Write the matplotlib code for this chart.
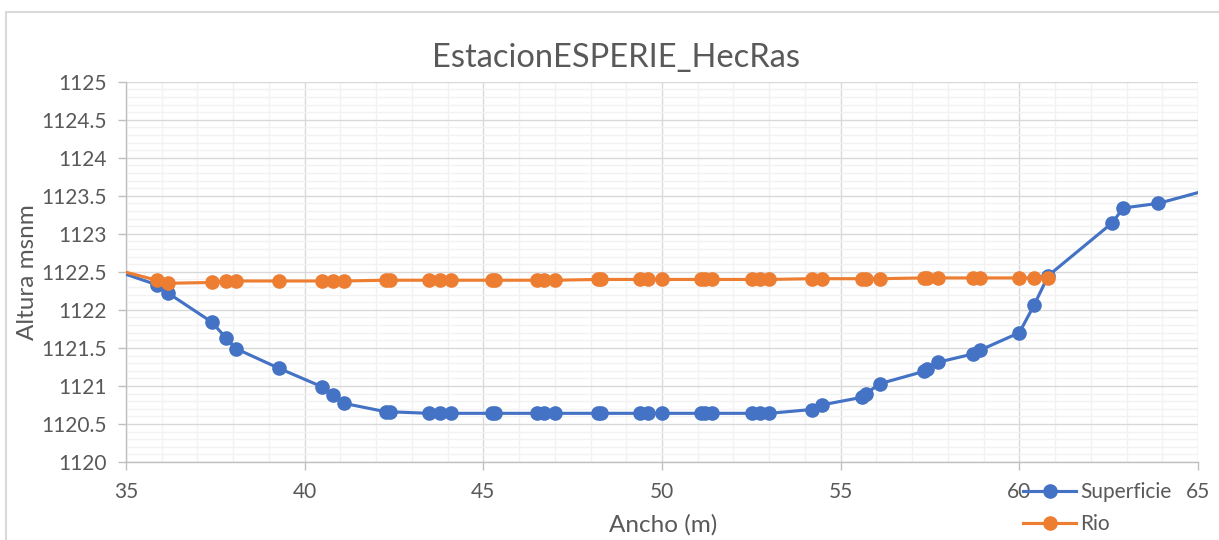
import matplotlib
matplotlib.use("Agg")
import matplotlib.pyplot as plt
from matplotlib.ticker import MultipleLocator, FuncFormatter
from matplotlib.patches import Rectangle

# ---------------- data ----------------
x_sup = [34.3, 35.86, 36.18, 37.40, 37.80, 38.08, 39.29, 40.48, 40.80, 41.11,
         42.28, 42.39, 43.49, 43.79, 44.10, 45.23, 45.33, 46.49, 46.70, 47.01,
         48.22, 48.28, 49.39, 49.62, 50.01, 51.10, 51.20, 51.39, 52.51, 52.74,
         53.00, 54.19, 54.47, 55.59, 55.71, 56.10, 57.32, 57.41, 57.71, 58.70,
         58.90, 60.00, 60.41, 60.81, 62.59, 62.91, 63.89, 66.0]
y_sup = [1122.58, 1122.33, 1122.22, 1121.84, 1121.63, 1121.49, 1121.23, 1120.99, 1120.88, 1120.77,
         1120.66, 1120.66, 1120.64, 1120.64, 1120.64, 1120.64, 1120.64, 1120.64, 1120.64, 1120.64,
         1120.64, 1120.64, 1120.64, 1120.64, 1120.64, 1120.64, 1120.64, 1120.64, 1120.64, 1120.64,
         1120.64, 1120.69, 1120.75, 1120.85, 1120.90, 1121.03, 1121.19, 1121.22, 1121.31, 1121.42,
         1121.47, 1121.70, 1122.06, 1122.45, 1123.14, 1123.34, 1123.40, 1123.67]

x_rio = [34.3, 35.86, 36.18, 37.40, 37.80, 38.08, 39.29, 40.48, 40.80, 41.11,
         42.28, 42.39, 43.49, 43.79, 44.10, 45.23, 45.33, 46.49, 46.70, 47.01,
         48.22, 48.28, 49.39, 49.62, 50.01, 51.10, 51.20, 51.39, 52.51, 52.74,
         53.00, 54.19, 54.47, 55.59, 55.71, 56.10, 57.32, 57.41, 57.71, 58.70,
         58.90, 60.00, 60.41, 60.81]
y_rio = [1122.58, 1122.39, 1122.35, 1122.36, 1122.38, 1122.38, 1122.38, 1122.38, 1122.38, 1122.38,
         1122.39, 1122.39, 1122.39, 1122.39, 1122.39, 1122.39, 1122.39, 1122.39, 1122.39, 1122.39,
         1122.40, 1122.40, 1122.40, 1122.40, 1122.40, 1122.40, 1122.40, 1122.40, 1122.40, 1122.40,
         1122.40, 1122.41, 1122.41, 1122.41, 1122.41, 1122.41, 1122.42, 1122.42, 1122.42, 1122.42,
         1122.42, 1122.42, 1122.42, 1122.42]

title = "EstacionESPERIE_HecRas"
xlabel = "Ancho (m)"
ylabel = "Altura msnm"
labels = ["Superficie", "Rio"]

# ---------------- style ----------------
plt.rcParams['font.family'] = ['Lato', 'DejaVu Sans']
TXT = '#595959'
BLUE = '#4472C4'
ORANGE = '#ED7D31'

W, H = 1219, 540
fig = plt.figure(figsize=(W / 100, H / 100), dpi=100)
L, R, T, B = 126, 1198, 81.7, 462
ax = fig.add_axes([L / W, 1 - B / H, (R - L) / W, (B - T) / H])

ax.set_xlim(35, 65)
ax.set_ylim(1120, 1125)
ax.xaxis.set_major_locator(MultipleLocator(5))
ax.xaxis.set_minor_locator(MultipleLocator(1))
ax.yaxis.set_major_locator(MultipleLocator(0.5))
ax.yaxis.set_minor_locator(MultipleLocator(0.1))
ax.yaxis.set_major_formatter(FuncFormatter(lambda v, p: f"{v:g}"))

ax.grid(which='minor', color='#F2F2F2', lw=1.0, zorder=0)
ax.grid(which='major', color='#D9D9D9', lw=1.0, zorder=0)
ax.set_axisbelow(True)

for s in ['top', 'right']:
    ax.spines[s].set_visible(False)
for s in ['left', 'bottom']:
    ax.spines[s].set_color('#BFBFBF')
    ax.spines[s].set_linewidth(1.0)

ax.tick_params(which='major', direction='out', length=5.5, width=1.0, color='#BFBFBF',
               labelcolor=TXT, labelsize=15)
ax.tick_params(axis='x', which='major', pad=9)
ax.tick_params(axis='y', which='major', pad=8)
ax.tick_params(which='minor', length=0)

ax.plot(x_sup, y_sup, color=BLUE, lw=2.25, marker='o', ms=9.5, label=labels[0], zorder=3)
ax.plot(x_rio, y_rio, color=ORANGE, lw=2.25, marker='o', ms=9.5, label=labels[1], zorder=4)

fig.text(616 / W, 1 - 58 / H, title, ha='center', va='center', fontsize=23.5, color=TXT)
fig.text(663 / W, 1 - 525 / H, xlabel, ha='center', va='center', fontsize=17.5, color=TXT)
fig.text(28 / W, 1 - 272 / H, ylabel, ha='center', va='center', fontsize=17.5, color=TXT, rotation=90)

leg = fig.legend(loc='upper left', bbox_to_anchor=(1023 / W, 1 - 482 / H),
                 bbox_transform=fig.transFigure, frameon=False, fontsize=15,
                 handlelength=2.55, handletextpad=0.2, labelspacing=0.6,
                 borderpad=0, borderaxespad=0)
for t in leg.get_texts():
    t.set_color(TXT)

fig.patches.append(Rectangle((6 / W, -0.1), 1.2, (H - 12) / H + 0.1,
                             transform=fig.transFigure, fill=False,
                             edgecolor='#D9D9D9', lw=1.5))

fig.savefig('out.png', dpi=100)
